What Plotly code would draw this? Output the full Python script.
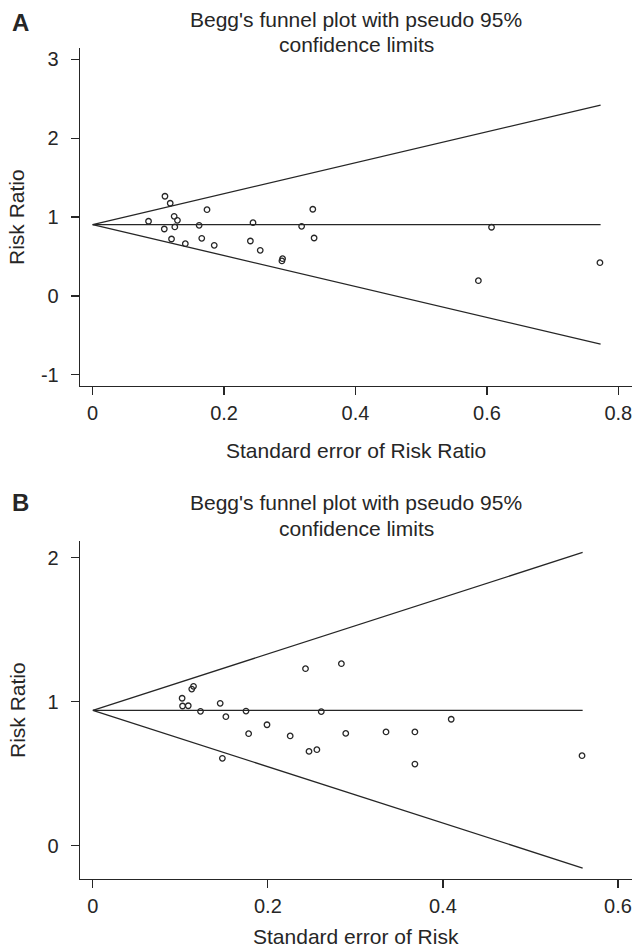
import plotly.graph_objects as go

# ---------------- data ----------------
# Panel A
a_se = [0.085, 0.110, 0.118, 0.124, 0.129, 0.109, 0.125, 0.120, 0.141, 0.162, 0.166, 0.174,
        0.185, 0.240, 0.244, 0.255, 0.289, 0.288, 0.318, 0.335, 0.337, 0.607, 0.587, 0.772]
a_rr = [0.947, 1.264, 1.175, 1.010, 0.959, 0.849, 0.875, 0.722, 0.663, 0.896, 0.731, 1.094,
        0.642, 0.697, 0.929, 0.579, 0.473, 0.444, 0.883, 1.099, 0.735, 0.871, 0.194, 0.422]
a_pooled = 0.904
a_se_max = 0.773
a_upper_end = 2.42
a_lower_end = -0.61
a_xticks = [0, 0.2, 0.4, 0.6, 0.8]
a_yticks = [-1, 0, 1, 2, 3]

# Panel B
b_se = [0.102, 0.1025, 0.109, 0.113, 0.115, 0.123, 0.1455, 0.152, 0.175, 0.178, 0.199, 0.2255,
        0.243, 0.284, 0.261, 0.289, 0.335, 0.368, 0.4095, 0.148, 0.247, 0.256, 0.368, 0.559]
b_rr = [1.024, 0.970, 0.972, 1.088, 1.107, 0.933, 0.989, 0.896, 0.935, 0.778, 0.840, 0.762,
        1.229, 1.264, 0.931, 0.780, 0.790, 0.790, 0.878, 0.607, 0.655, 0.667, 0.567, 0.625]
b_pooled = 0.94
b_se_max = 0.5597
b_upper_end = 2.037
b_lower_end = -0.155
b_xticks = [0, 0.2, 0.4, 0.6]
b_yticks = [0, 1, 2]

title_l1 = "Begg's funnel plot with pseudo 95%"
title_l2 = "confidence limits"
a_xtitle = "Standard error of Risk Ratio"
b_xtitle = "Standard error of Risk"
ytitle = "Risk Ratio"

# ---------------- figure ----------------
W, H = 636, 949
INK = "#262626"
FONT = "Liberation Sans, Arial, Helvetica, sans-serif"

fig = go.Figure()

def add_panel(se, rr, pooled, se_max, up, lo, xa, ya):
    for yend in (up, pooled, lo):
        fig.add_trace(go.Scatter(x=[0, se_max], y=[pooled, yend], mode="lines",
                                 line=dict(color=INK, width=1.3), xaxis=xa, yaxis=ya,
                                 hoverinfo="skip", showlegend=False))
    fig.add_trace(go.Scatter(x=se, y=rr, mode="markers",
                             marker=dict(symbol="circle-open", size=5.5,
                                         color=INK, line=dict(width=1.3, color=INK)),
                             xaxis=xa, yaxis=ya, showlegend=False))

add_panel(a_se, a_rr, a_pooled, a_se_max, a_upper_end, a_lower_end, "x", "y")
add_panel(b_se, b_rr, b_pooled, b_se_max, b_upper_end, b_lower_end, "x2", "y2")

def fx(px):
    return px / W

def fy(py):
    return 1 - py / H

x0, x1 = fx(80), fx(632)

def ydom(top, bot):
    return [fy(bot), fy(top)]

axis_common = dict(showgrid=False, zeroline=False, showline=True, linecolor=INK, linewidth=1.3,
                   ticks="outside", ticklen=8, tickwidth=1.2, tickcolor=INK,
                   tickfont=dict(family=FONT, size=20, color=INK))

fig.update_layout(
    width=W, height=H, margin=dict(l=0, r=0, t=0, b=0),
    paper_bgcolor="white", plot_bgcolor="white", showlegend=False,
    xaxis=dict(domain=[x0, x1], range=[-0.0193, 0.8208], tickvals=a_xticks,
               ticktext=[f"{v:g}" for v in a_xticks], anchor="y", ticklabelstandoff=1, **axis_common),
    yaxis=dict(domain=ydom(48, 386), range=[-1.141, 3.143], tickvals=a_yticks,
               ticktext=[str(v) for v in a_yticks], anchor="x", ticklabelstandoff=8, **axis_common),
    xaxis2=dict(domain=[x0, x1], range=[-0.0147, 0.6161], tickvals=b_xticks,
                ticktext=[f"{v:g}" for v in b_xticks], anchor="y2", ticklabelstandoff=1, **axis_common),
    yaxis2=dict(domain=ydom(541, 879), range=[-0.2313, 2.116], tickvals=b_yticks,
                ticktext=[str(v) for v in b_yticks], anchor="x2", ticklabelstandoff=8, **axis_common),
)

def ann(text, px, py, size, bold=False, angle=0, xanchor="center"):
    t = f"<b>{text}</b>" if bold else text
    fig.add_annotation(text=t, x=fx(px), y=fy(py), xref="paper", yref="paper",
                       showarrow=False, xanchor=xanchor, yanchor="middle", textangle=angle,
                       font=dict(family=FONT, size=size, color=INK))

cx = (80 + 632) / 2
# Panel A texts
ann("A", 10, 22, 24, bold=True, xanchor="left")
ann(title_l1, cx, 20, 21)
ann(title_l2, cx, 45, 21)
ann(ytitle, 17, 217, 21, angle=-90)
ann(a_xtitle, cx, 450, 21)
# Panel B texts
ann("B", 10, 502, 24, bold=True, xanchor="left")
ann(title_l1, cx, 503, 21)
ann(title_l2, cx, 528, 21)
ann(ytitle, 17, 710, 21, angle=-90)
ann(b_xtitle, cx, 936, 21)

# remove the browser's default 8px body margin so the figure fills the window exactly
fig.write_html("out.html", config={"displayModeBar": False, "staticPlot": True},
               post_script="document.body.style.margin='0px';")
